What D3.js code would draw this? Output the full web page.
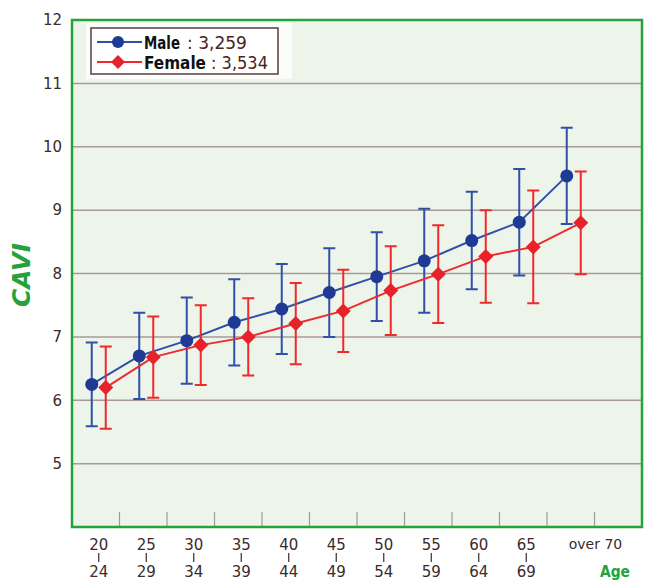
<!DOCTYPE html>
<html>
<head>
<meta charset="utf-8">
<script src="https://cdn.jsdelivr.net/npm/d3@7/dist/d3.min.js"></script>
<style>
  body { margin: 0; background: #fff; }
  svg { display: block; }
  text { font-family: "DejaVu Sans", sans-serif; }
</style>
</head>
<body>
<div id="chart"></div>
<script>
// age groups (two-line labels under the axis)
const ageGroups = ["20-24", "25-29", "30-34", "35-39", "40-44", "45-49", "50-54", "55-59", "60-64", "65-69", "over 70"];
const ageFrom = ["20", "25", "30", "35", "40", "45", "50", "55", "60", "65", "over 70"];
const ageTo = ["24", "29", "34", "39", "44", "49", "54", "59", "64", "69", ""];

// CAVI mean and SD per group
const maleMean = [6.25, 6.70, 6.94, 7.23, 7.44, 7.70, 7.95, 8.20, 8.52, 8.81, 9.54];
const maleSD = [0.66, 0.68, 0.68, 0.68, 0.71, 0.70, 0.70, 0.82, 0.77, 0.84, 0.76];
const femaleMean = [6.20, 6.68, 6.87, 7.00, 7.21, 7.41, 7.73, 7.99, 8.27, 8.42, 8.80];
const femaleSD = [0.65, 0.64, 0.63, 0.61, 0.64, 0.65, 0.70, 0.77, 0.73, 0.89, 0.81];

const yTicks = [5, 6, 7, 8, 9, 10, 11, 12];
const legendItems = [
    { name: "Male", n: ": 3,259", color: "#1f3a94", line: "#3050a8", shape: "circle" },
    { name: "Female", n: ": 3,534", color: "#e8222a", line: "#ee2a2a", shape: "diamond" }
];

const width = 646, height = 580;
const plot = { left: 72, right: 642, top: 20, bottom: 527 };

const svg = d3.select('#chart').append('svg').attr('width', width).attr('height', height);

// the band scale covers 11 groups, the plot keeps one empty slot on the right
const bandW = (plot.right - plot.left) / 12;
const x = d3.scaleBand().domain(ageGroups).range([plot.left, plot.left + bandW * ageGroups.length]);
const y = d3.scaleLinear().domain([4, 12]).range([plot.bottom, plot.top]);

const green = '#25a23c';

svg.append('rect')
    .attr('x', plot.left).attr('y', plot.top)
    .attr('width', plot.right - plot.left).attr('height', plot.bottom - plot.top)
    .attr('fill', '#edf4ea');

// grid
svg.append('g').selectAll('line').data(yTicks.filter(d => d < 12)).join('line')
    .attr('x1', plot.left).attr('x2', plot.right)
    .attr('y1', d => y(d)).attr('y2', d => y(d))
    .attr('stroke', '#a89a98').attr('stroke-width', 1.5);

// tick marks at the group boundaries
svg.append('g').selectAll('line').data(ageGroups).join('line')
    .attr('x1', d => x(d) + x.bandwidth()).attr('x2', d => x(d) + x.bandwidth())
    .attr('y1', plot.bottom).attr('y2', plot.bottom - 15)
    .attr('stroke', '#a09a98').attr('stroke-width', 1.2);

svg.append('rect')
    .attr('x', plot.left).attr('y', plot.top)
    .attr('width', plot.right - plot.left).attr('height', plot.bottom - plot.top)
    .attr('fill', 'none').attr('stroke', green).attr('stroke-width', 2.5);

// y axis labels
const yAxis = svg.append('g')
    .attr('transform', 'translate(' + plot.left + ',0)')
    .call(d3.axisLeft(y).tickValues(yTicks).tickSize(0).tickPadding(10).tickFormat(d3.format('d')));
yAxis.select('.domain').remove();
yAxis.selectAll('text')
    .attr('font-family', '"DejaVu Sans", sans-serif')
    .attr('font-size', 15).attr('fill', '#3b2b2b');

svg.append('text')
    .attr('transform', 'translate(30,275) rotate(-90)')
    .attr('text-anchor', 'middle')
    .attr('font-size', 25).attr('font-weight', 'bold').attr('font-style', 'italic')
    .attr('textLength', 64).attr('lengthAdjust', 'spacingAndGlyphs')
    .attr('fill', green).text('CAVI');

// x labels
const xl = svg.append('g');
ageGroups.forEach((g, i) => {
    const cx = x(g) + x.bandwidth() / 2 + 3;
    if (ageTo[i] === '') {
        xl.append('text').attr('x', x(g) + x.bandwidth() + 1).attr('y', 549)
            .attr('text-anchor', 'middle').attr('font-size', 14).attr('fill', '#3b2b2b')
            .text(ageFrom[i]);
        return;
    }
    xl.append('text').attr('x', cx).attr('y', 549.5)
        .attr('text-anchor', 'middle').attr('font-size', 15).attr('fill', '#3b2b2b').text(ageFrom[i]);
    xl.append('line').attr('x1', cx).attr('x2', cx).attr('y1', 553).attr('y2', 562)
        .attr('stroke', '#3b2b2b').attr('stroke-width', 1.2);
    xl.append('text').attr('x', cx).attr('y', 577)
        .attr('text-anchor', 'middle').attr('font-size', 15).attr('fill', '#3b2b2b').text(ageTo[i]);
});
svg.append('text').attr('x', 615).attr('y', 577)
    .attr('text-anchor', 'middle').attr('font-size', 16).attr('font-weight', 'bold')
    .attr('textLength', 30).attr('lengthAdjust', 'spacingAndGlyphs')
    .attr('fill', green).text('Age');

// series
const series = [
    { mean: maleMean, sd: maleSD, offset: -4, style: legendItems[0] },
    { mean: femaleMean, sd: femaleSD, offset: 10, style: legendItems[1] }
];

function marker(sel, shape, color, size) {
    if (shape === 'circle') {
        sel.append('circle').attr('r', size).attr('fill', color);
    } else {
        const s = size + 1;
        sel.append('path').attr('d', 'M0,' + (-s) + 'L' + s + ',0L0,' + s + 'L' + (-s) + ',0Z').attr('fill', color);
    }
}

series.forEach(s => {
    const px = i => x(ageGroups[i]) + x.bandwidth() / 2 + s.offset;
    const g = svg.append('g');
    const idx = d3.range(ageGroups.length);

    g.selectAll('.bar').data(idx).join('path')
        .attr('d', i => {
            const cx = px(i), t = y(s.mean[i] + s.sd[i]), b = y(s.mean[i] - s.sd[i]);
            return 'M' + cx + ',' + t + 'V' + b + 'M' + (cx - 6) + ',' + t + 'H' + (cx + 6) + 'M' + (cx - 6) + ',' + b + 'H' + (cx + 6);
        })
        .attr('fill', 'none').attr('stroke', s.style.line).attr('stroke-width', 2);

    const line = d3.line().x(i => px(i)).y(i => y(s.mean[i]));
    g.append('path').datum(idx).attr('d', line)
        .attr('fill', 'none').attr('stroke', s.style.line).attr('stroke-width', 2);

    idx.forEach(i => {
        marker(g.append('g').attr('transform', 'translate(' + px(i) + ',' + y(s.mean[i]) + ')'), s.style.shape, s.style.color, 6.5);
    });
});

// squeeze a text horizontally to a target width
function squeeze(sel, x0, y0, target) {
    const w = sel.node().getComputedTextLength();
    sel.attr('transform', 'translate(' + x0 + ',' + y0 + ') scale(' + (target / w) + ',1)');
}

// legend
const lg = svg.append('g');
lg.append('rect').attr('x', 86).attr('y', 23).attr('width', 206).attr('height', 56).attr('fill', '#fbfdfa');
lg.append('rect').attr('x', 91).attr('y', 28).attr('width', 187).attr('height', 46)
    .attr('fill', '#fff').attr('stroke', '#5c3c3c').attr('stroke-width', 1.5);
legendItems.forEach((d, i) => {
    const ly = 42 + i * 20;
    lg.append('line').attr('x1', 97).attr('x2', 142).attr('y1', ly).attr('y2', ly)
        .attr('stroke', d.line).attr('stroke-width', 2);
    marker(lg.append('g').attr('transform', 'translate(118,' + ly + ')'), d.shape, d.color, 6);
    const name = lg.append('text')
        .attr('font-size', 18).attr('font-weight', 'bold').attr('fill', '#111').text(d.name);
    squeeze(name, 144, ly + 6.5, i === 0 ? 36 : 62);
    const num = lg.append('text')
        .attr('font-size', 18).attr('fill', '#4a2323').text(d.n);
    squeeze(num, i === 0 ? 187 : 211, ly + 6.5, i === 0 ? 60 : 57);
});
</script>
</body>
</html>
